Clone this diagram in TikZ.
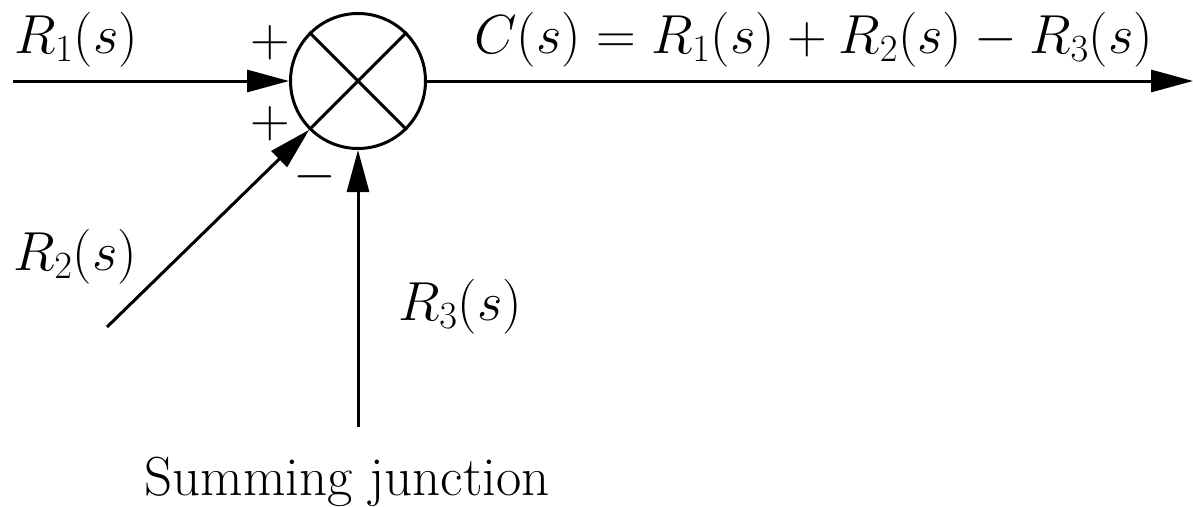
\RequirePackage{fix-cm}
\documentclass[tikz,border=0pt]{standalone}
\usepackage{amsmath}
\usetikzlibrary{arrows.meta,positioning}

\begin{document}
\begin{tikzpicture}[x=1pt, y=-1pt, >={Triangle[length=42pt,width=22pt]}, line width=3pt,
  font=\fontsize{55}{62}\selectfont,
  lbl/.style={anchor=base west, inner sep=0pt}]
\useasboundingbox (0,0) rectangle (1193,506);
\node[draw, circle, minimum size=135pt, inner sep=0pt] (sum) at (358,81) {};
\draw (sum.45) -- (sum.225);
\draw (sum.135) -- (sum.-45);
\coordinate (r1) at (13,81);
\coordinate (out) at (1193,81);
\coordinate (r2) at (107,327);
\coordinate (r3) at (358,427);
\draw[->] (r1) -- (sum);
\draw[->] (sum) -- (out);
\draw[->] (r2) -- (sum.225);
\draw[->] (r3) -- (sum);
\node[lbl] (lr1) at (13,53) {$R_1(s)$};
\node[lbl] (lc) at (473,53) {$C(s) = R_1(s) + R_2(s) - R_3(s)$};
\node[lbl] (lr2) at (12,270) {$R_2(s)$};
\node[lbl] (lr3) at (397,320) {$R_3(s)$};
\node[lbl] (lsum) at (143,495) {Summing junction};
\node[anchor=base, inner sep=0pt] (p1) at (270,56) {$+$};
\node[anchor=base, inner sep=0pt] (p2) at (270,137) {$+$};
\node[anchor=base, inner sep=0pt] (m3) at (315,190) {$-$};
\end{tikzpicture}
\end{document}
